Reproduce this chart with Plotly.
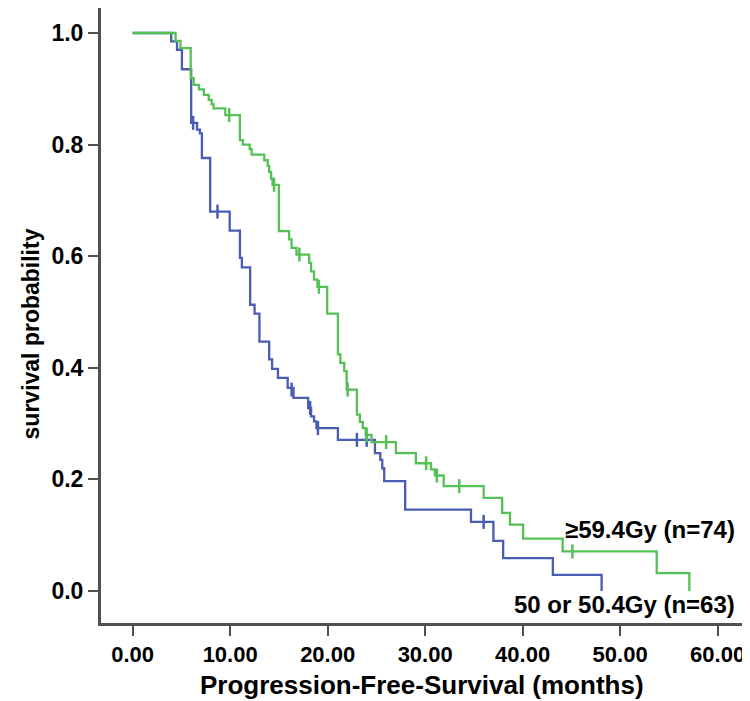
import plotly.graph_objects as go

# ---- data ----
high_t = [0, 4.4, 4.9, 5.95, 6.25, 6.8, 7.3, 7.8, 8.1, 8.3, 9.5, 11.0, 11.3, 12.0, 12.2,
          13.5, 13.85, 14.0, 14.2, 14.35, 15.0, 16.05, 16.3, 16.8, 18.1, 18.3, 18.6, 18.95,
          19.95, 21.05, 21.3, 21.7, 21.95, 23.0, 23.3, 23.6, 23.9, 24.5, 27.0, 29.05, 30.6,
          31.0, 31.9, 36.0, 37.9, 38.7, 40.05, 44.1, 53.75, 57.1]
high_s = [1.0, 0.986, 0.973, 0.919, 0.907, 0.899, 0.889, 0.880, 0.872, 0.865, 0.853, 0.808,
          0.800, 0.792, 0.782, 0.772, 0.762, 0.751, 0.739, 0.728, 0.645, 0.630, 0.615, 0.603,
          0.588, 0.573, 0.558, 0.545, 0.497, 0.424, 0.409, 0.394, 0.361, 0.316, 0.303, 0.292,
          0.280, 0.267, 0.247, 0.229, 0.218, 0.207, 0.188, 0.167, 0.140, 0.119, 0.094, 0.071,
          0.032, 0.0]
high_cens_t = [9.9, 14.5, 17.1, 19.1, 22.05, 24.0, 26.0, 30.1, 31.2, 33.5, 45.1]
high_cens_s = [0.853, 0.728, 0.603, 0.545, 0.361, 0.280, 0.267, 0.229, 0.207, 0.188, 0.071]

low_t = [0, 3.95, 4.55, 5.05, 6.0, 6.6, 6.9, 7.1, 7.95, 9.95, 11.0, 11.2, 12.05, 12.5, 13.0,
         14.0, 14.3, 14.9, 15.9, 16.5, 18.0, 18.3, 18.6, 18.85, 21.05, 24.85, 25.4, 25.6,
         25.8, 27.95, 34.7, 37.0, 38.0, 43.1, 48.1]
low_s = [1.0, 0.985, 0.970, 0.935, 0.839, 0.827, 0.820, 0.776, 0.680, 0.646, 0.597, 0.580,
         0.513, 0.497, 0.447, 0.415, 0.398, 0.382, 0.364, 0.346, 0.328, 0.313, 0.304, 0.292,
         0.271, 0.247, 0.235, 0.220, 0.197, 0.146, 0.124, 0.090, 0.059, 0.029, 0.0]
low_cens_t = [6.2, 8.7, 16.3, 18.2, 19.0, 23.0, 24.0, 36.0]
low_cens_s = [0.839, 0.680, 0.361, 0.328, 0.292, 0.271, 0.271, 0.124]

x_ticks = [0, 10, 20, 30, 40, 50, 60]
x_tick_text = ["0.00", "10.00", "20.00", "30.00", "40.00", "50.00", "60.00"]
y_ticks = [0.0, 0.2, 0.4, 0.6, 0.8, 1.0]
y_tick_text = ["0.0", "0.2", "0.4", "0.6", "0.8", "1.0"]

label_high = "≥59.4Gy (n=74)"
label_low = "50 or 50.4Gy (n=63)"

BLUE = "#4a5cb3"
GREEN = "#55c055"
AXIS = "#505050"
FONT = "Liberation Sans, Arial, sans-serif"

fig = go.Figure()
fig.add_trace(go.Scatter(x=low_t, y=low_s, mode="lines", line=dict(color=BLUE, width=2.3, shape="hv"),
                         showlegend=False, hoverinfo="skip"))
fig.add_trace(go.Scatter(x=high_t, y=high_s, mode="lines", line=dict(color=GREEN, width=2.3, shape="hv"),
                         showlegend=False, hoverinfo="skip"))
fig.add_trace(go.Scatter(x=low_cens_t, y=low_cens_s, mode="markers",
                         marker=dict(symbol="line-ns", size=10, color=BLUE, line=dict(color=BLUE, width=2.5)),
                         showlegend=False, hoverinfo="skip"))
fig.add_trace(go.Scatter(x=high_cens_t, y=high_cens_s, mode="markers",
                         marker=dict(symbol="line-ns", size=10, color=GREEN, line=dict(color=GREEN, width=2.5)),
                         showlegend=False, hoverinfo="skip"))

fig.update_layout(
    width=750, height=701,
    margin=dict(l=93, r=16, t=0, b=86),
    paper_bgcolor="white", plot_bgcolor="white",
    font=dict(family=FONT, color="black"),
    xaxis=dict(range=[-3.25, 62.5], tickvals=x_ticks, ticktext=x_tick_text,
               showgrid=False, zeroline=False, showline=True, linecolor=AXIS, linewidth=3,
               ticks="outside", ticklen=10, tickwidth=2, tickcolor=AXIS,
               tickfont=dict(size=22, family=FONT, color="black", weight="bold")),
    yaxis=dict(range=[-0.0573, 1.0448], tickvals=y_ticks, ticktext=y_tick_text,
               showgrid=False, zeroline=False, showline=True, linecolor=AXIS, linewidth=3,
               ticks="outside", ticklen=10, tickwidth=2, tickcolor=AXIS,
               tickfont=dict(size=23, family=FONT, color="black", weight="bold")),
    annotations=[
        dict(text="<b>Progression-Free-Survival (months)</b>", xref="paper", yref="paper",
             x=0.5, y=-0.101, xanchor="center", yanchor="middle", showarrow=False,
             font=dict(size=26, family=FONT, color="black")),
        dict(text="<b>survival probability</b>", xref="paper", yref="paper",
             x=-0.110, y=0.47, xanchor="center", yanchor="middle", textangle=-90, showarrow=False,
             font=dict(size=23, family=FONT, color="black")),
        dict(text="<b>" + label_high + "</b>", xref="x", yref="y", x=62.0, y=0.11,
             xanchor="right", yanchor="middle", showarrow=False,
             font=dict(size=24, family=FONT, color="black")),
        dict(text="<b>" + label_low + "</b>", xref="x", yref="y", x=62.0, y=-0.024,
             xanchor="right", yanchor="middle", showarrow=False,
             font=dict(size=24, family=FONT, color="black")),
    ],
)

fig.write_html("out.html")
